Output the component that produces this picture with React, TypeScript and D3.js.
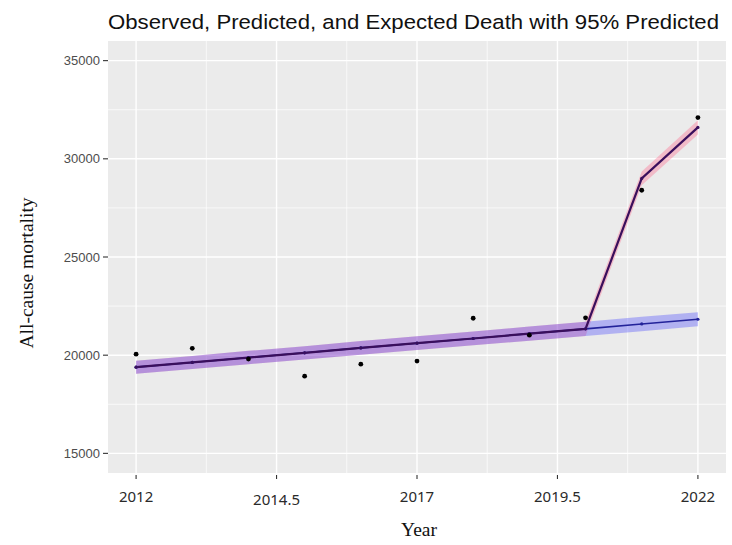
import * as d3 from 'd3';

const years = [2012, 2013, 2014, 2015, 2016, 2017, 2018, 2019, 2020, 2021, 2022];
const observed = [20050, 20350, 19800, 18930, 19540, 19700, 21880, 21020, 21900, 28400, 32100];
const predicted = [19390, 19630, 19880, 20120, 20370, 20610, 20850, 21100, 21340, 29000, 31600];
const predictedLow = [19060, 19300, 19540, 19780, 20020, 20260, 20500, 20740, 20980, 28650, 31240];
const predictedHigh = [19720, 19960, 20220, 20460, 20720, 20960, 21200, 21460, 21700, 29350, 31960];
const expected = [19390, 19630, 19880, 20120, 20370, 20610, 20850, 21100, 21340, 21590, 21830];
const expectedLow = [19060, 19300, 19540, 19780, 20020, 20260, 20500, 20740, 20980, 21220, 21470];
const expectedHigh = [19720, 19960, 20220, 20460, 20720, 20960, 21200, 21460, 21700, 21960, 22190];

const xTicks = [2012, 2014.5, 2017, 2019.5, 2022];
const xMinor = [2013.25, 2015.75, 2018.25, 2020.75];
const yTicks = [15000, 20000, 25000, 30000, 35000];
const yMinor = [17500, 22500, 27500, 32500];

const W = 732;
const H = 545;
const panel = { left: 108, right: 726, top: 41, bottom: 473 };

export default function App() {
    const x = d3.scaleLinear().domain([2011.5, 2022.5]).range([panel.left, panel.right]);
    const y = d3.scaleLinear().domain([14000, 36000]).range([panel.bottom, panel.top]);

    const idx = years.map((_, i) => i);

    const band = (lo: number[], hi: number[]) =>
        d3
            .area<number>()
            .x(i => x(years[i]))
            .y0(i => y(lo[i]))
            .y1(i => y(hi[i]))(idx) ?? '';

    const line = (v: number[]) =>
        d3
            .line<number>()
            .x(i => x(years[i]))
            .y(i => y(v[i]))(idx) ?? '';

    const sans = '"Liberation Sans", Arial, sans-serif';
    const serif = '"Liberation Serif", "Times New Roman", serif';

    return (
        <svg width={W} height={H} style={{ position: 'absolute', left: 0, top: 0, background: '#fff' }}>
            <text x={panel.left} y={29} fontFamily={sans} fontSize={20.5} fill="#111" textLength={611} lengthAdjust="spacingAndGlyphs">
                Observed, Predicted, and Expected Death with 95% Predicted
            </text>

            <rect x={panel.left} y={panel.top} width={panel.right - panel.left} height={panel.bottom - panel.top} fill="#ebebeb" />

            {yMinor.map(t => (
                <line key={'ym' + t} x1={panel.left} x2={panel.right} y1={y(t)} y2={y(t)} stroke="#fff" strokeWidth={0.7} />
            ))}
            {xMinor.map(t => (
                <line key={'xm' + t} x1={x(t)} x2={x(t)} y1={panel.top} y2={panel.bottom} stroke="#fff" strokeWidth={0.7} />
            ))}
            {yTicks.map(t => (
                <line key={'yg' + t} x1={panel.left} x2={panel.right} y1={y(t)} y2={y(t)} stroke="#fff" strokeWidth={1.4} />
            ))}
            {xTicks.map(t => (
                <line key={'xg' + t} x1={x(t)} x2={x(t)} y1={panel.top} y2={panel.bottom} stroke="#fff" strokeWidth={1.4} />
            ))}

            <path d={band(predictedLow, predictedHigh)} fill="#ff5a82" fillOpacity={0.33} />
            <path d={band(expectedLow, expectedHigh)} fill="#3c3cff" fillOpacity={0.33} />

            <path d={line(expected)} fill="none" stroke="#23239a" strokeWidth={1.6} />
            <path d={line(predicted)} fill="none" stroke="#3a0f5c" strokeWidth={2.2} />

            {expected.map((v, i) => (
                <circle key={'ed' + i} cx={x(years[i])} cy={y(v)} r={1.6} fill="#23239a" />
            ))}
            {predicted.map((v, i) => (
                <circle key={'pd' + i} cx={x(years[i])} cy={y(v)} r={1.6} fill="#3a0f5c" />
            ))}
            {observed.map((v, i) => (
                <circle key={'ob' + i} cx={x(years[i])} cy={y(v)} r={2.4} fill="#000" />
            ))}

            {yTicks.map(t => (
                <g key={'yt' + t}>
                    <line x1={panel.left - 5} x2={panel.left} y1={y(t)} y2={y(t)} stroke="#333" strokeWidth={1.1} />
                    <text x={panel.left - 8} y={y(t)} dy="0.35em" textAnchor="end" fontFamily={sans} fontSize={13} fill="#4d4d4d">
                        {t}
                    </text>
                </g>
            ))}
            {xTicks.map(t => (
                <g key={'xt' + t}>
                    <line x1={x(t)} x2={x(t)} y1={panel.bottom + 2} y2={panel.bottom + 6} stroke="#333" strokeWidth={1.1} />
                    <text x={x(t)} y={t === 2014.5 ? 505 : 502} textAnchor="middle" fontFamily='"Noto Sans", "Open Sans", sans-serif' fontSize={15} fill="#2a2a2a">
                        {t}
                    </text>
                </g>
            ))}

            <text x={419} y={536} textAnchor="middle" fontFamily={serif} fontSize={19.5} fill="#111">
                Year
            </text>
            <text transform={`translate(33,273) rotate(-90)`} textAnchor="middle" fontFamily={serif} fontSize={19.5} fill="#111">
                All-cause mortality
            </text>
        </svg>
    );
}
